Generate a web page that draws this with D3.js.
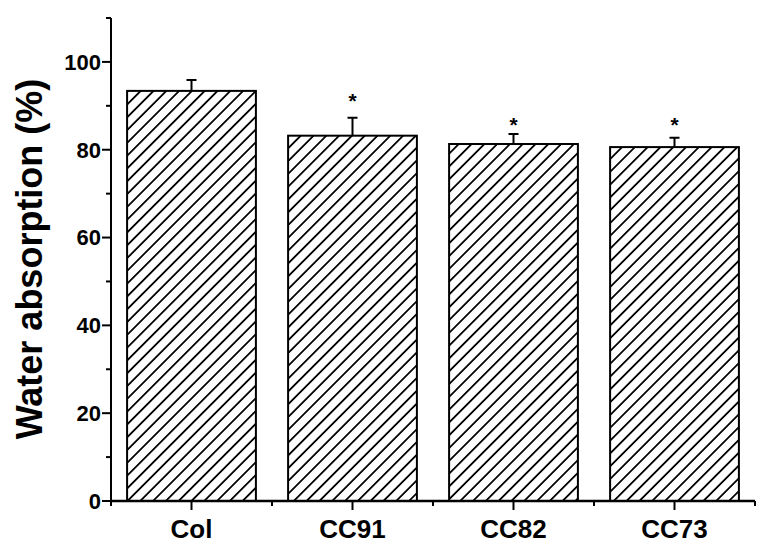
<!DOCTYPE html>
<html>
<head>
<meta charset="utf-8">
<style>
body { margin: 0; background: #fff; }
text { font-family: "Liberation Sans", Arial, sans-serif; fill: #000; }
</style>
</head>
<body>
<svg id="viz"></svg>
<script src="https://cdn.jsdelivr.net/npm/d3@7"></script>
<script>
// values
var samples = ["Col", "CC91", "CC82", "CC73"];
var absorption = [93.4, 83.2, 81.3, 80.6];
var sd = [2.5, 4.1, 2.3, 2.1];
var starAt = [null, 92.0, 86.6, 86.5]; // where the * sits (in % units)
var yTicks = [0, 20, 40, 60, 80, 100];

var width = 766, height = 556;
var margin = {left: 111, right: 11, top: 18, bottom: 55};

var svg = d3.select("#viz").attr("width", width).attr("height", height);

var x = d3.scaleBand()
    .domain(samples)
    .range([margin.left, width - margin.right])
    .paddingInner(0.2)
    .paddingOuter(0.1);

var y = d3.scaleLinear()
    .domain([0, 110])
    .range([height - margin.bottom, margin.top]);

// hatch
var defs = svg.append("defs");
defs.append("pattern")
    .attr("id", "hatch")
    .attr("patternUnits", "userSpaceOnUse")
    .attr("width", 9.05)
    .attr("height", 9.05)
    .attr("patternTransform", "rotate(45)")
  .append("line")
    .attr("x1", 0).attr("y1", 0)
    .attr("x2", 0).attr("y2", 9.05)
    .attr("stroke", "#000")
    .attr("stroke-width", 3.6);

var g = svg.append("g");

// error bars (upper half only)
g.selectAll(".err")
    .data(samples)
    .enter()
    .append("path")
    .attr("class", "err")
    .attr("fill", "none")
    .attr("stroke", "#000")
    .attr("stroke-width", 2)
    .attr("d", function(d, i) {
        var cx = x(d) + x.bandwidth() / 2;
        var top = y(absorption[i] + sd[i]);
        return "M" + cx + "," + y(absorption[i]) + "V" + top + "M" + (cx - 5) + "," + top + "H" + (cx + 5);
    });

// bars
g.selectAll(".bar")
    .data(samples)
    .enter()
    .append("rect")
    .attr("class", "bar")
    .attr("x", function(d) { return x(d); })
    .attr("width", x.bandwidth())
    .attr("y", function(d, i) { return y(absorption[i]); })
    .attr("height", function(d, i) { return y(0) - y(absorption[i]); })
    .attr("fill", "url(#hatch)")
    .attr("stroke", "#000")
    .attr("stroke-width", 2);

// significance marks
g.selectAll(".star")
    .data(samples.filter(function(d, i) { return starAt[i] != null; }))
    .enter()
    .append("text")
    .attr("class", "star")
    .attr("x", function(d) { return x(d) + x.bandwidth() / 2; })
    .attr("y", function(d) { return y(starAt[samples.indexOf(d)]) + 11; })
    .attr("text-anchor", "middle")
    .style("font-size", "21px")
    .style("font-weight", "bold")
    .text("*");

// y axis
var yAxis = svg.append("g").attr("transform", "translate(" + margin.left + ",0)");
yAxis.append("line")
    .attr("x1", 0).attr("x2", 0)
    .attr("y1", y(0)).attr("y2", y(110))
    .attr("stroke", "#000").attr("stroke-width", 2);
yAxis.selectAll(".minor")
    .data(d3.range(10, 111, 20))
    .enter().append("line")
    .attr("x1", -5).attr("x2", 0)
    .attr("y1", function(d) { return y(d); }).attr("y2", function(d) { return y(d); })
    .attr("stroke", "#000").attr("stroke-width", 2);
yAxis.selectAll(".major")
    .data(yTicks)
    .enter().append("line")
    .attr("x1", -9).attr("x2", 0)
    .attr("y1", function(d) { return y(d); }).attr("y2", function(d) { return y(d); })
    .attr("stroke", "#000").attr("stroke-width", 2);
yAxis.selectAll(".lbl")
    .data(yTicks)
    .enter().append("text")
    .attr("x", -10)
    .attr("y", function(d) { return y(d); })
    .attr("dy", "0.36em")
    .attr("text-anchor", "end")
    .style("font-size", "22px")
    .style("font-weight", "bold")
    .text(function(d) { return d; });

// x axis
var xAxis = svg.append("g").attr("transform", "translate(0," + y(0) + ")");
xAxis.append("line")
    .attr("x1", margin.left - 1).attr("x2", width - margin.right)
    .attr("y1", 0).attr("y2", 0)
    .attr("stroke", "#000").attr("stroke-width", 2.5);
xAxis.selectAll(".minor")
    .data(d3.range(samples.length + 1))
    .enter().append("line")
    .attr("x1", function(i) { return margin.left + i * (width - margin.right - margin.left) / samples.length; })
    .attr("x2", function(i) { return margin.left + i * (width - margin.right - margin.left) / samples.length; })
    .attr("y1", 0).attr("y2", 5)
    .attr("stroke", "#000").attr("stroke-width", 2);
xAxis.selectAll(".major")
    .data(samples)
    .enter().append("line")
    .attr("x1", function(d) { return x(d) + x.bandwidth() / 2; })
    .attr("x2", function(d) { return x(d) + x.bandwidth() / 2; })
    .attr("y1", 0).attr("y2", 9)
    .attr("stroke", "#000").attr("stroke-width", 2);
xAxis.selectAll(".lbl")
    .data(samples)
    .enter().append("text")
    .attr("x", function(d) { return x(d) + x.bandwidth() / 2; })
    .attr("y", 37)
    .attr("text-anchor", "middle")
    .style("font-size", "26px")
    .style("font-weight", "bold")
    .text(function(d) { return d; });

// y title
svg.append("text")
    .attr("transform", "translate(42," + 259 + ") rotate(-90)")
    .attr("text-anchor", "middle")
    .style("font-size", "36px")
    .style("font-weight", "bold")
    .text("Water absorption (%)");
</script>
</body>
</html>
